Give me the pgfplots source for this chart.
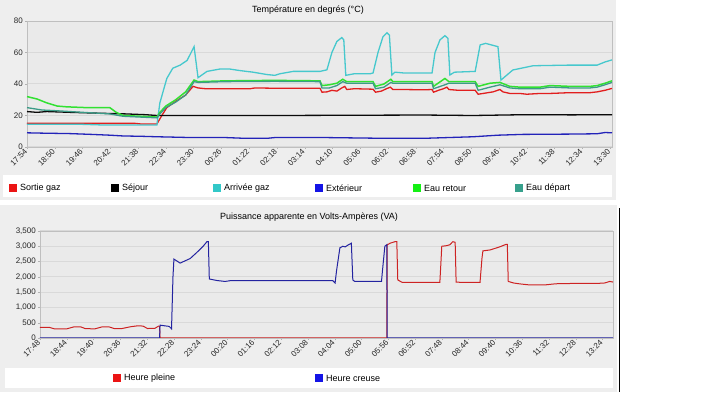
\documentclass[border=0pt]{standalone}
\usepackage{pgfplots}
\pgfplotsset{compat=1.18}
\usepackage{fontspec}
\setmainfont{Liberation Sans}
\definecolor{panel}{RGB}{238,238,238}
\definecolor{plotbg}{RGB}{234,234,234}
\definecolor{cSortie}{RGB}{225,30,30}
\definecolor{cSejour}{RGB}{10,10,10}
\definecolor{cArrivee}{RGB}{70,200,205}
\definecolor{cExt}{RGB}{35,35,185}
\definecolor{cRetour}{RGB}{50,225,50}
\definecolor{cDepart}{RGB}{60,155,135}
\definecolor{cPleine}{RGB}{205,35,35}
\definecolor{cCreuse}{RGB}{35,35,160}
\definecolor{lgRed}{RGB}{235,20,20}
\definecolor{lgBlue}{RGB}{20,20,230}
\definecolor{lgCyan}{RGB}{50,200,200}
\definecolor{lgGreen}{RGB}{20,240,20}
\definecolor{lgTeal}{RGB}{55,160,140}
\pgfplotsset{jf/.style={
  scale only axis, anchor=south west,
  axis background/.style={fill=plotbg},
  axis line style={draw=gray!50},
  ymajorgrids, grid style={draw=gray!30, line width=1pt},
  tick style={draw=gray!60}, major tick length=2pt, tick align=outside,
  xtick pos=lower, ytick pos=left,
  ticklabel style={font=\fontsize{8}{9}\selectfont, text=black!85},
  /pgf/number format/assume math mode=true,
  xticklabel style={rotate=45, anchor=east, inner sep=1.5pt},
  yticklabel style={inner sep=2pt},
}}
\begin{document}
\begin{tikzpicture}[x=1pt,y=1pt]
\fill[white] (0,0) rectangle (702,398);
\fill[panel] (0,198) rectangle (616,398);
\fill[white] (3,201) rectangle (612,223);
\fill[panel] (0,6) rectangle (617,193);
\draw[black, line width=1pt] (619,6) -- (619,190);
\fill[white] (5,10) rectangle (613,30);
\node[font=\fontsize{9}{10}\selectfont] at (308,388) {Température en degrés (°C)};
\node[font=\fontsize{9}{10}\selectfont] at (309,181) {Puissance apparente en Volts-Ampères (VA)};

\begin{axis}[jf, at={(27pt,251pt)}, width=585pt, height=126pt,
  xmin=0, xmax=1180, ymin=0, ymax=80, ytick={0,20,40,60,80},
  xtick={0,56,...,1176},
  xticklabels={17:54,18:50,19:46,20:42,21:38,22:34,23:30,00:26,01:22,02:18,03:14,04:10,05:06,06:02,06:58,07:54,08:50,09:46,10:42,11:38,12:34,13:30}]
% Sortie gaz
\addplot[cSortie, line width=1.3pt] coordinates {(0,15) (218,15) (230,14.6) (262,14.6) (272,20) (282,25) (300,29) (320,33) (335,38.5) (345,37.5) (360,37) (400,37) (450,37) (460,37.5) (500,37.3) (591,37.3) (595,34.8) (605,35) (615,36) (625,35.5) (635,37.5) (641,38.5) (645,36.5) (660,37) (698,36.7) (703,34.8) (715,35.5) (725,37) (733,38) (738,36.5) (760,36.5) (800,36.3) (817,36.5) (820,34.8) (830,36) (840,37) (847,38) (851,36.5) (870,36) (904,36) (910,33.5) (920,34) (940,35) (954,36.5) (960,35) (974,34) (994,34) (1008,33.5) (1035,34) (1055,34) (1095,34.5) (1136,34.5) (1150,35) (1166,36) (1180,37.2)};
% Sejour
\addplot[cSejour, line width=1.3pt] coordinates {(0,22.5) (20,22) (40,22.5) (87,22) (140,21.5) (200,21) (240,20.5) (262,20) (300,20) (500,20) (800,20.3) (900,20) (1000,20.5) (1100,20.4) (1180,20.5)};
% Arrivee gaz
\addplot[cArrivee, line width=1.3pt] coordinates {(0,14.5) (100,14.5) (150,14) (262,14) (268,28) (282,43.5) (294,50) (309,52) (323,55) (337,63.7) (345,44) (363,48) (389,49.5) (409,49.5) (430,48.5) (456,47.5) (484,46) (500,45.5) (510,46.5) (537,48) (591,48) (605,49) (615,60) (625,67) (635,69.5) (639,68) (643,45.5) (660,46.5) (692,46.5) (698,47) (708,60) (718,70) (726,72.5) (731,71) (736,45.7) (742,47.5) (760,47) (817,47) (823,60) (833,68) (843,70.7) (849,69) (853,45.7) (862,47.5) (904,48) (914,64.8) (925,65.8) (950,63.7) (956,42.5) (980,48.9) (1021,51.6) (1095,52) (1150,52) (1166,54) (1180,55.3)};
% Exterieur
\addplot[cExt, line width=1.3pt] coordinates {(0,9) (30,8.8) (87,8.5) (130,8) (167,7.5) (194,7) (230,6.8) (262,6.5) (290,6.3) (330,6) (400,6) (440,5.5) (484,5.5) (500,6) (600,6) (700,5.6) (800,5.5) (850,6) (900,6.5) (950,7.5) (1000,8) (1100,8.2) (1150,8.4) (1166,9.2) (1180,9)};
% Eau retour
\addplot[cRetour, line width=1.5pt] coordinates {(0,32) (20,30.5) (40,28) (61,26) (80,25.5) (120,25) (167,25) (180,22) (194,20) (230,19.5) (262,19) (268,22) (280,26) (300,30) (320,35) (337,42.5) (345,41.5) (400,42) (500,42.3) (591,42) (595,39) (610,39.5) (625,40.5) (637,43) (645,41.5) (698,41.5) (703,38.5) (720,40) (734,43) (738,41.5) (817,41.5) (820,38.5) (843,43.5) (851,41.5) (904,41.5) (910,38.5) (934,40.5) (954,41) (974,38.5) (994,38) (1035,38) (1055,39) (1095,38.5) (1136,38.5) (1150,39) (1166,40.5) (1180,42)};
% Eau depart
\addplot[cDepart, line width=1.3pt] coordinates {(0,25) (30,23.5) (61,23) (113,22) (167,21) (194,19.5) (262,18.5) (268,21) (280,25) (300,28.5) (320,33) (337,41.5) (345,41) (400,41.5) (500,41.7) (591,41.5) (595,37.5) (610,37.5) (625,39) (637,41.5) (645,40.5) (698,40.5) (703,37) (720,38) (734,41) (738,40.5) (817,40.5) (820,37) (843,39.5) (851,40.5) (904,40.5) (910,36) (934,38) (954,39.5) (974,37.5) (994,37) (1035,37) (1055,38) (1095,37.5) (1136,37.5) (1150,38) (1166,39.5) (1180,41)};
\end{axis}

\begin{axis}[jf, at={(40pt,60pt)}, width=573pt, height=107pt,
  xmin=0, xmax=1198, ymin=0, ymax=3500, ytick={0,500,...,3500},
  yticklabel style={/pgf/number format/.cd, 1000 sep={,}},
  xtick={0,56,...,1176},
  xticklabels={17:48,18:44,19:40,20:36,21:32,22:28,23:24,00:20,01:16,02:12,03:08,04:04,05:00,05:56,06:52,07:48,08:44,09:40,10:36,11:32,12:28,13:24}]
% Heure pleine
\addplot[cPleine, line width=1pt] coordinates {(0,350) (20,345) (30,300) (55,295) (70,360) (85,365) (95,305) (115,300) (130,365) (145,360) (155,310) (170,305) (190,370) (205,400) (215,390) (225,310) (240,315) (248,390) (250,380) (251,0) (725,0) (726,3050) (732,3100) (742,3150) (746,3150) (748,1900) (757,1820) (836,1820) (838,2400) (840,3000) (850,3020) (857,3050) (863,3150) (868,3130) (870,1830) (880,1820) (920,1820) (924,2600) (926,2850) (941,2880) (961,2980) (974,3060) (977,3060) (979,1850) (990,1800) (1003,1770) (1024,1735) (1055,1735) (1076,1770) (1087,1780) (1170,1790) (1181,1800) (1191,1850) (1198,1830)};
% Heure creuse
\addplot[cCreuse, line width=1pt] coordinates {(0,0) (250,0) (251,420) (260,400) (270,380) (275,300) (278,2000) (280,2580) (293,2450) (307,2550) (314,2600) (328,2800) (341,3000) (349,3150) (352,3150) (354,1930) (370,1880) (387,1850) (400,1880) (500,1880) (612,1880) (617,1800) (620,2200) (627,2950) (633,3000) (638,2980) (645,3050) (651,3100) (654,1900) (658,1850) (714,1850) (716,2200) (721,3000) (725,3050) (726,0) (1198,0)};
\end{axis}

% legends
\begin{scope}[font=\fontsize{9}{10}\selectfont]
\fill[lgRed]   (9,206) rectangle (17,214);   \node[anchor=west,inner sep=0] at (20,210) {Sortie gaz};
\fill[black]   (111,206) rectangle (119,214); \node[anchor=west,inner sep=0] at (122,210) {Séjour};
\fill[lgCyan]  (213,206) rectangle (221,214); \node[anchor=west,inner sep=0] at (224,210) {Arrivée gaz};
\fill[lgBlue]  (315,206) rectangle (323,214); \node[anchor=west,inner sep=0] at (326,210) {Extérieur};
\fill[lgGreen] (413,206) rectangle (421,214); \node[anchor=west,inner sep=0] at (424,210) {Eau retour};
\fill[lgTeal]  (515,206) rectangle (523,214); \node[anchor=west,inner sep=0] at (526,210) {Eau départ};
\fill[lgRed]   (113,16) rectangle (121,24);   \node[anchor=west,inner sep=0] at (124,20) {Heure pleine};
\fill[lgBlue]  (315,16) rectangle (323,24);   \node[anchor=west,inner sep=0] at (326,20) {Heure creuse};
\end{scope}
\end{tikzpicture}
\end{document}
